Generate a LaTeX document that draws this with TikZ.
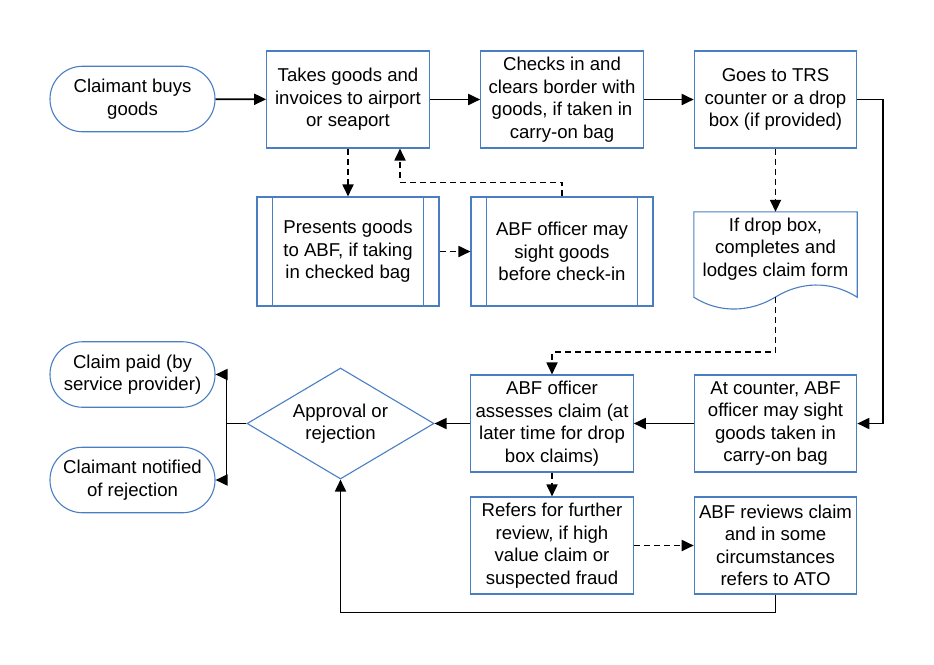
\documentclass[tikz,border=0pt]{standalone}
\usepackage{fontspec}
\setmainfont{Liberation Sans}
\usetikzlibrary{shapes.geometric,arrows.meta}
\definecolor{bord}{RGB}{74,126,195}
\newcommand\dfont{\fontsize{18.6}{22.5}\selectfont}
\tikzset{
 box/.style={draw=bord, line width=1.1pt, fill=white, minimum width=162.5pt, minimum height=97pt, inner sep=0pt, align=center, font=\dfont},
 term/.style={box, rounded corners=32.5pt, minimum width=165pt, minimum height=65.5pt},
 predef/.style={box, minimum width=182pt, minimum height=109pt},
 dec/.style={box, diamond, aspect=1.685, minimum width=187pt, minimum height=111pt},
 arr/.style={line width=1.8pt, -{Triangle[length=12pt,width=11pt]}},
 darr/.style={arr, dash pattern=on 6pt off 4pt},
}
\begin{document}
\begin{tikzpicture}[x=1pt,y=-1pt]
\fill[white] (0,0) rectangle (934,664);
\useasboundingbox (0,0) rectangle (934,664);
\node[term] (buys) at (132.5,99) {Claimant buys\\goods};
\node[box] (takes) at (348,99.5) {Takes goods and\\invoices to airport\\or seaport};
\node[box] (checks) at (562,99.5) {Checks in and\\clears border with\\goods, if taken in\\carry-on bag};
\node[box] (trs) at (775.5,99.5) {Goes to TRS\\counter or a drop\\box (if provided)};
\node[predef] (present) at (348,251.5) {Presents goods\\to ABF, if taking\\in checked bag};
\node[predef] (sight) at (562,251.5) {ABF officer may\\sight goods\\before check-in};
\foreach \n in {present,sight}{
  \draw[bord, line width=1.1pt] ([xshift=16pt]\n.north west) -- ([xshift=16pt]\n.south west);
  \draw[bord, line width=1.1pt] ([xshift=-16pt]\n.north east) -- ([xshift=-16pt]\n.south east);
}
\node[minimum width=163pt, minimum height=85pt, inner sep=0pt] (doc) at (775.5,254.5) {};
\draw[draw=bord, line width=1.1pt, fill=white] (doc.north west) -- (doc.north east) -- (doc.south east)
  .. controls (830,280) and (800,282) .. (775.5,297)
  .. controls (751,312) and (720,314) .. (doc.south west) -- cycle;
\node[align=center, font=\dfont, inner sep=0pt] (doctext) at (775.5,249) {If drop box,\\completes and\\lodges claim form};
\node[box] (counter) at (775.5,423.5) {At counter, ABF\\officer may sight\\goods taken in\\carry-on bag};
\node[box] (assess) at (552,423.5) {ABF officer\\assesses claim (at\\later time for drop\\box claims)};
\node[box] (refers) at (552,545.5) {Refers for further\\review, if high\\value claim or\\suspected fraud};
\node[box] (reviews) at (775.5,545.5) {ABF reviews claim\\and in some\\circumstances\\refers to ATO};
\node[dec] (dec) at (340.5,423.5) {Approval or\\rejection};
\node[term] (paid) at (132.5,374.5) {Claim paid (by\\service provider)};
\node[term] (notif) at (132.5,480) {Claimant notified\\of rejection};
% connectors
\draw[arr] (buys) -- (takes);
\draw[arr] (takes) -- (checks);
\draw[arr] (checks) -- (trs);
\draw[arr] (trs.east) -- ++(26,0) |- (counter.east);
\draw[darr] (takes) -- (present);
\draw[darr] (present) -- (sight);
\draw[darr] (sight.north) -- ++(0,-14) -| ([xshift=52pt]takes.south);
\draw[darr] (trs) -- (doc);
\draw[darr] (doc.south) -- ++(0,55) -| (assess.north);
\draw[arr] (counter) -- (assess);
\draw[arr] (assess) -- (dec);
\draw[darr] (assess) -- (refers);
\draw[darr] (refers) -- (reviews);
\draw[arr] (reviews.south) -- ++(0,18) -| (dec.south);
\draw[arr] (dec.west) -- ++(-20,0) |- (paid.east);
\draw[arr] (dec.west) -- ++(-20,0) |- (notif.east);
\end{tikzpicture}
\end{document}
